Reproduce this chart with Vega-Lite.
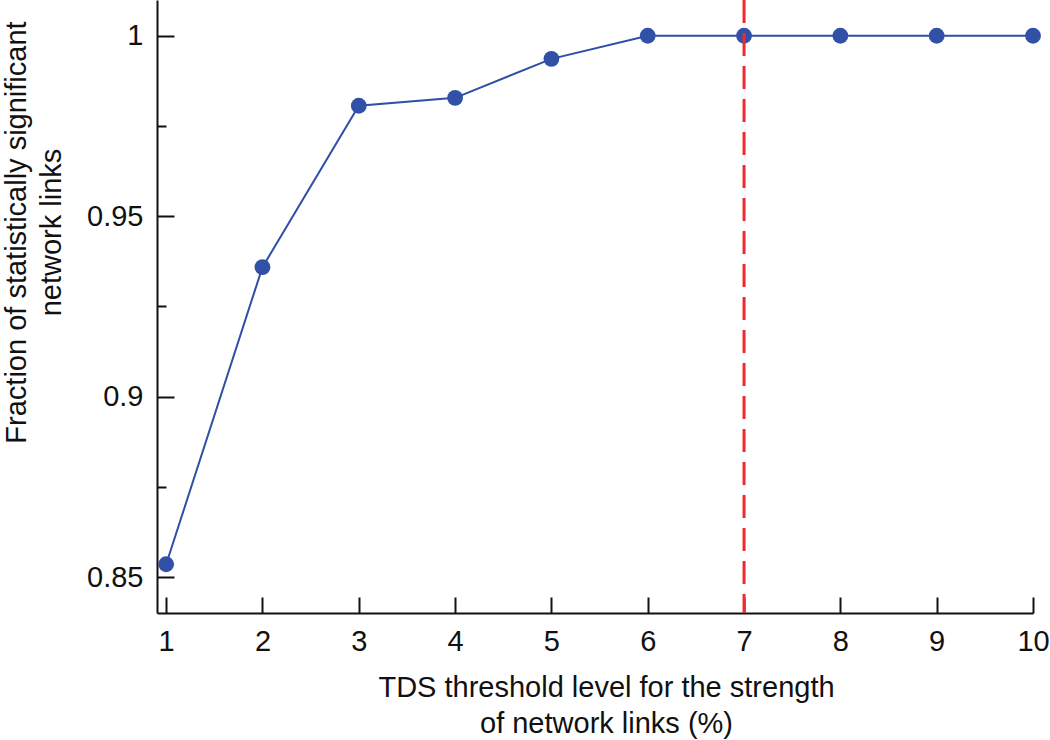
{
  "$schema": "https://vega.github.io/schema/vega-lite/v6.json",
  "width": 876,
  "height": 613,
  "autosize": "none",
  "padding": {"left": 157, "top": 0, "right": 17, "bottom": 127},
  "background": "white",
  "config": {
    "view": {"stroke": null},
    "font": "Liberation Sans",
    "axis": {
      "domainColor": "#111",
      "domainWidth": 2,
      "tickColor": "#111",
      "tickWidth": 2,
      "labelFont": "Liberation Sans",
      "labelFontSize": 29,
      "labelColor": "#111",
      "titleFont": "Liberation Sans",
      "titleFontSize": 29,
      "titleFontWeight": "normal",
      "titleColor": "#111",
      "grid": false
    }
  },
  "data": {
    "values": [
      {"threshold": 1, "fraction": 0.8536},
      {"threshold": 2, "fraction": 0.9359},
      {"threshold": 3, "fraction": 0.9806},
      {"threshold": 4, "fraction": 0.9828},
      {"threshold": 5, "fraction": 0.9936},
      {"threshold": 6, "fraction": 1.0},
      {"threshold": 7, "fraction": 1.0},
      {"threshold": 8, "fraction": 1.0},
      {"threshold": 9, "fraction": 1.0},
      {"threshold": 10, "fraction": 1.0}
    ]
  },
  "layer": [
    {
      "mark": {"type": "line", "color": "#2f4fa6", "strokeWidth": 2},
      "encoding": {
        "x": {
          "field": "threshold",
          "type": "quantitative",
          "scale": {"domain": [0.905, 10], "nice": false, "zero": false},
          "axis": {
            "values": [1, 2, 3, 4, 5, 6, 7, 8, 9, 10],
            "format": "d",
            "tickSize": -16,
            "labelPadding": 30,
            "labelFlush": false,
            "labelOverlap": false,
            "title": ["TDS threshold level for the strength", "of network links (%)"],
            "titleLineHeight": 36,
            "titleBaseline": "alphabetic",
            "titleAlign": "center",
            "titleX": 449,
            "titleY": 83
          }
        },
        "y": {
          "field": "fraction",
          "type": "quantitative",
          "scale": {"domain": [0.8401, 1.0099], "nice": false, "zero": false},
          "axis": {
            "values": [0.85, 0.875, 0.9, 0.925, 0.95, 0.975, 1],
            "tickSize": {"condition": {"test": "abs(datum.value * 20 - round(datum.value * 20)) < 0.001", "value": -17}, "value": -9},
            "labelExpr": "abs(datum.value * 20 - round(datum.value * 20)) < 0.001 ? format(datum.value, '~g') : ''",
            "labelPadding": 31,
            "labelFlush": false,
            "labelOverlap": false,
            "title": ["Fraction of statistically significant", "network links"],
            "titleLineHeight": 35,
            "titleBaseline": "alphabetic",
            "titleAlign": "center",
            "titleAngle": -90,
            "titleX": -132,
            "titleY": 232
          }
        }
      }
    },
    {
      "mark": {"type": "point", "filled": true, "color": "#3151a7", "size": 250, "opacity": 1},
      "encoding": {
        "x": {"field": "threshold", "type": "quantitative"},
        "y": {"field": "fraction", "type": "quantitative"}
      }
    },
    {
      "data": {"values": [{"marker": 7}]},
      "mark": {"type": "rule", "color": "#ee2a30", "strokeWidth": 3, "strokeDash": [23, 10]},
      "encoding": {
        "x": {"field": "marker", "type": "quantitative"}
      }
    }
  ]
}
